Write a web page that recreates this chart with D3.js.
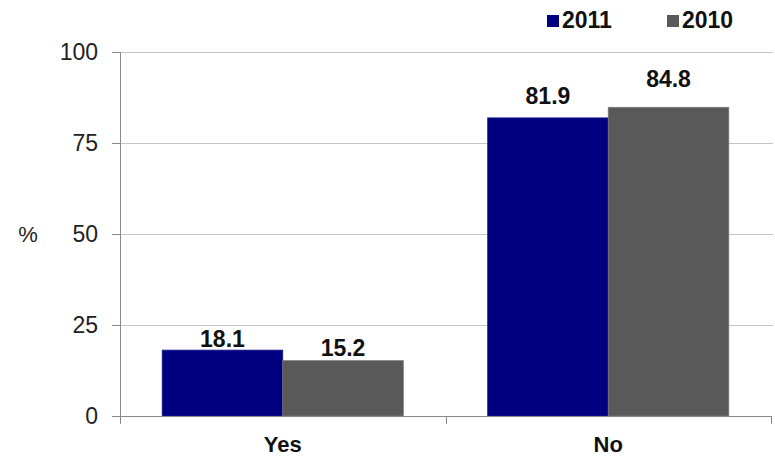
<!DOCTYPE html>
<html>
<head>
<meta charset="utf-8">
<script src="https://cdn.jsdelivr.net/npm/d3@7"></script>
<style>
  html, body { margin: 0; padding: 0; background: #fff; }
  svg { display: block; font-family: 'Liberation Sans', Arial, sans-serif; }
</style>
</head>
<body>
<svg id="chart" width="775" height="456"></svg>
<script>
const categories = ['Yes', 'No']
const seriesNames = ['2011', '2010']
const values2011 = [18.1, 81.9]
const values2010 = [15.2, 84.8]
const yTicks = [0, 25, 50, 75, 100]
const colors = ['#000080', '#595959']
// gap between bar top and its label (the original places them by hand)
const labelGap = [[3, 5], [14, 20]]

const svg = d3.select('#chart')
const plotLeft = 120, plotRight = 771, plotTop = 52, plotBottom = 416

// scales
const x0 = d3.scaleBand().domain(categories).range([plotLeft, plotRight]).padding(0)
const x1 = d3.scaleBand().domain(seriesNames).range([0, x0.bandwidth()])
	.paddingInner(0).paddingOuter(0.35)
const y = d3.scaleLinear().domain([0, 100]).range([plotBottom, plotTop])

const rows = categories.map((c, i) => ({
	cat: c,
	vals: [
		{ name: seriesNames[0], v: values2011[i], gap: labelGap[i][0] },
		{ name: seriesNames[1], v: values2010[i], gap: labelGap[i][1] }
	]
}))

// gridlines
svg.append('g')
	.selectAll('line')
	.data(yTicks.filter(t => t > 0))
	.enter()
	.append('line')
	.attr('x1', plotLeft)
	.attr('x2', plotRight + 2)
	.attr('y1', d => Math.round(y(d)) + 0.5)
	.attr('y2', d => Math.round(y(d)) + 0.5)
	.attr('stroke', '#c4c4c4')
	.attr('stroke-width', 1)

// bars
const groups = svg.append('g')
	.selectAll('g')
	.data(rows)
	.enter()
	.append('g')
	.attr('transform', d => `translate(${x0(d.cat)},0)`)

groups.selectAll('rect')
	.data(d => d.vals)
	.enter()
	.append('rect')
	.attr('x', d => x1(d.name))
	.attr('y', d => y(d.v))
	.attr('width', x1.bandwidth())
	.attr('height', d => y(0) - y(d.v))
	.attr('fill', (d, i) => colors[i])
	.attr('stroke', (d, i) => i === 0 ? '#1a1a8a' : '#7a7a7a')
	.attr('stroke-width', 0.8)

// value labels
groups.selectAll('text')
	.data(d => d.vals)
	.enter()
	.append('text')
	.attr('x', d => x1(d.name) + x1.bandwidth() / 2)
	.attr('y', d => y(d.v) - d.gap)
	.attr('text-anchor', 'middle')
	.attr('font-size', 23)
	.attr('font-weight', 'bold')
	.attr('fill', '#111')
	.text(d => d.v.toFixed(1))

// y axis
const yAxis = svg.append('g')
	.attr('transform', `translate(${plotLeft},0)`)
	.call(d3.axisLeft(y).tickValues(yTicks).tickSize(8).tickPadding(14))
yAxis.select('.domain').attr('stroke', '#888').attr('d', `M0.5,${plotTop}V${plotBottom + 8}`)
yAxis.selectAll('.tick line').attr('stroke', '#888')
yAxis.selectAll('.tick text')
	.attr('font-size', 23)
	.attr('fill', '#222')
	.attr('font-family', "'Liberation Sans', Arial, sans-serif")

// x axis
const xAxis = svg.append('g')
	.attr('transform', `translate(0,${plotBottom})`)
	.call(d3.axisBottom(x0).tickSize(0).tickPadding(20))
xAxis.select('.domain').attr('stroke', '#888').attr('d', `M${plotLeft},0.5H${plotRight}`)
xAxis.selectAll('.tick text')
	.attr('font-size', 22)
	.attr('font-weight', 'bold')
	.attr('fill', '#111')
	.attr('font-family', "'Liberation Sans', Arial, sans-serif")

// category boundary ticks
const bounds = categories.map(c => x0(c)).concat([x0(categories[categories.length - 1]) + x0.bandwidth()])
xAxis.selectAll('.bound')
	.data(bounds.slice(1))
	.enter()
	.append('line')
	.attr('class', 'bound')
	.attr('x1', d => Math.round(d) + 0.5)
	.attr('x2', d => Math.round(d) + 0.5)
	.attr('y1', 0)
	.attr('y2', 8)
	.attr('stroke', '#888')

// y title
svg.append('text')
	.attr('x', 28)
	.attr('y', 242)
	.attr('text-anchor', 'middle')
	.attr('font-size', 22)
	.attr('fill', '#222')
	.text('%')

// legend
const legendX = [547, 667]
const legend = svg.append('g')
	.selectAll('g')
	.data(seriesNames)
	.enter()
	.append('g')
	.attr('transform', (d, i) => `translate(${legendX[i]},15)`)
legend.append('rect')
	.attr('width', 12)
	.attr('height', 12)
	.attr('fill', (d, i) => colors[i])
legend.append('text')
	.attr('x', 15)
	.attr('y', 12.5)
	.attr('font-size', 23)
	.attr('font-weight', 'bold')
	.attr('fill', '#111')
	.text(d => d)
</script>
</body>
</html>
